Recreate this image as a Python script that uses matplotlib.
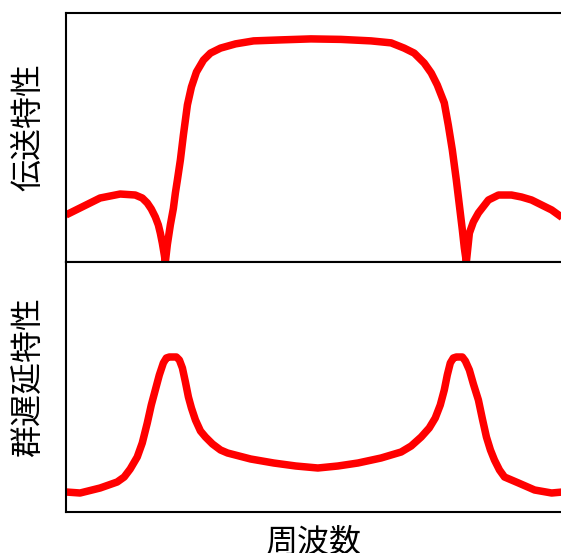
import matplotlib
matplotlib.use("Agg")
import matplotlib.pyplot as plt

plt.rcParams['font.family'] = ['Noto Sans CJK JP', 'DejaVu Sans']

# Transmission characteristic (top)
freq_top = [0, 14, 34, 54, 69, 76, 81, 85, 89, 92, 94, 96, 98, 99, 101, 104, 107, 109, 111,
            114, 117, 121, 125, 130, 137, 144, 154, 169, 187, 214, 244, 274, 304, 324, 337,
            347, 357, 364, 370, 377, 381, 385, 389, 392, 395, 397, 399, 402, 406, 411, 421,
            431, 444, 454, 464, 474, 484, 495]
trans = [0.189, 0.217, 0.257, 0.273, 0.269, 0.257, 0.237, 0.213, 0.181, 0.149, 0.116, 0.076,
         0.028, 0.0, 0.070, 0.149, 0.215, 0.277, 0.329, 0.410, 0.510, 0.631, 0.703, 0.763,
         0.811, 0.839, 0.859, 0.876, 0.888, 0.892, 0.896, 0.894, 0.888, 0.880, 0.859, 0.839,
         0.799, 0.759, 0.711, 0.639, 0.550, 0.450, 0.329, 0.229, 0.129, 0.056, 0.0, 0.116,
         0.161, 0.197, 0.249, 0.269, 0.269, 0.261, 0.249, 0.229, 0.209, 0.177]

# Group delay characteristic (bottom)
freq_bot = [0, 14, 34, 51, 58, 64, 71, 76, 81, 85, 89, 93, 97, 100, 103, 110, 113, 116, 119,
            122, 125, 129, 134, 139, 146, 154, 161, 184, 207, 229, 251, 271, 291, 314, 334,
            344, 354, 362, 368, 373, 377, 380, 383, 386, 389, 395, 398, 402, 406, 411, 415,
            419, 423, 427, 432, 437, 444, 451, 467, 484, 495]
delay = [0.080, 0.076, 0.096, 0.120, 0.140, 0.172, 0.220, 0.276, 0.356, 0.428, 0.488, 0.548,
         0.596, 0.616, 0.620, 0.620, 0.608, 0.576, 0.520, 0.460, 0.416, 0.368, 0.324, 0.300,
         0.272, 0.248, 0.236, 0.212, 0.196, 0.184, 0.176, 0.184, 0.196, 0.216, 0.240, 0.264,
         0.300, 0.336, 0.376, 0.428, 0.488, 0.548, 0.596, 0.616, 0.620, 0.620, 0.604, 0.568,
         0.512, 0.448, 0.372, 0.300, 0.248, 0.208, 0.168, 0.140, 0.128, 0.116, 0.088, 0.076,
         0.080]

ylabel_top = "伝送特性"
ylabel_bot = "群遅延特性"
xlabel = "周波数"

fig = plt.figure(figsize=(5.61, 5.53), dpi=100)
left = 66 / 561
width = 1.003 - left
ax1 = fig.add_axes([left, 1 - 262 / 553, width, (262 - 13) / 553])
ax2 = fig.add_axes([left, 1 - 512 / 553, width, (512 - 262) / 553])

for ax, x, y in [(ax1, freq_top, trans), (ax2, freq_bot, delay)]:
    ax.plot(x, y, color='#ff0000', lw=5.4, solid_joinstyle='round', solid_capstyle='butt')
    ax.set_xlim(0, 495)
    ax.set_ylim(0, 1)
    ax.set_xticks([])
    ax.set_yticks([])
    for s in ax.spines.values():
        s.set_linewidth(1.5)
        s.set_color('black')

fig.text(28 / 561, 1 - 127 / 553, ylabel_top, rotation=90, ha='center', va='center', fontsize=23)
fig.text(28 / 561, 1 - 377 / 553, ylabel_bot, rotation=90, ha='center', va='center', fontsize=23)
fig.text(314 / 561, 1 - 543 / 553, xlabel, ha='center', va='center', fontsize=23)

fig.savefig("out.png", dpi=100)
